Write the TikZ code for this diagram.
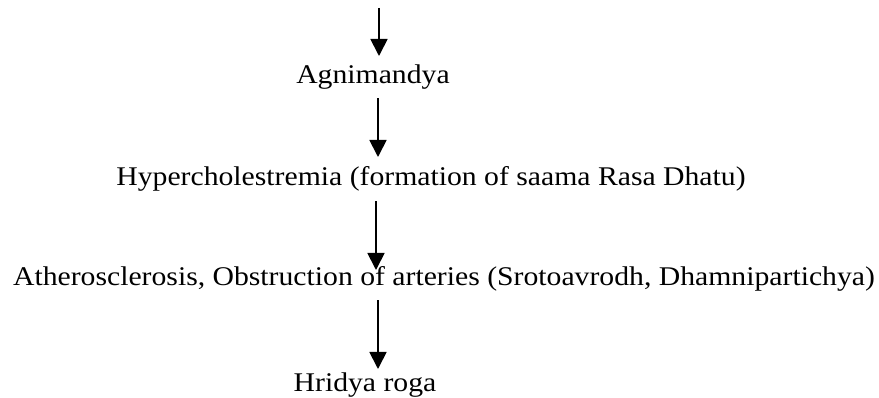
\documentclass[tikz,border=0pt]{standalone}
\usepackage{fontspec}
\setmainfont[FakeStretch=1.1]{Liberation Serif}
\usetikzlibrary{arrows.meta}
\begin{document}
\begin{tikzpicture}[x=1pt,y=-1pt,
  lbl/.style={inner sep=0pt,font=\fontsize{27}{31}\selectfont,anchor=base},
  arr/.style={line width=1.8pt,-{Triangle[length=17pt,width=17pt]}}]
\useasboundingbox (0,0) rectangle (879,398);
\coordinate (top) at (379,8);
\node[lbl] (a) at (373,84) {Agnimandya};
\node[lbl] (h) at (431,186) {Hypercholestremia (formation of saama Rasa Dhatu)};
\node[lbl] (t) at (444,286) {Atherosclerosis, Obstruction of arteries (Srotoavrodh, Dhamnipartichya)};
\node[lbl] (r) at (365,391) {Hridya roga};
\draw[arr] (top) -- (379,56);
\draw[arr] (a.south -| 378,0) ++(0,8) -- (378,157);
\draw[arr] (h.south -| 376,0) ++(0,9) -- (376,270);
\draw[arr] (t.south -| 378,0) ++(0,8) -- (378,369);
\end{tikzpicture}
\end{document}
